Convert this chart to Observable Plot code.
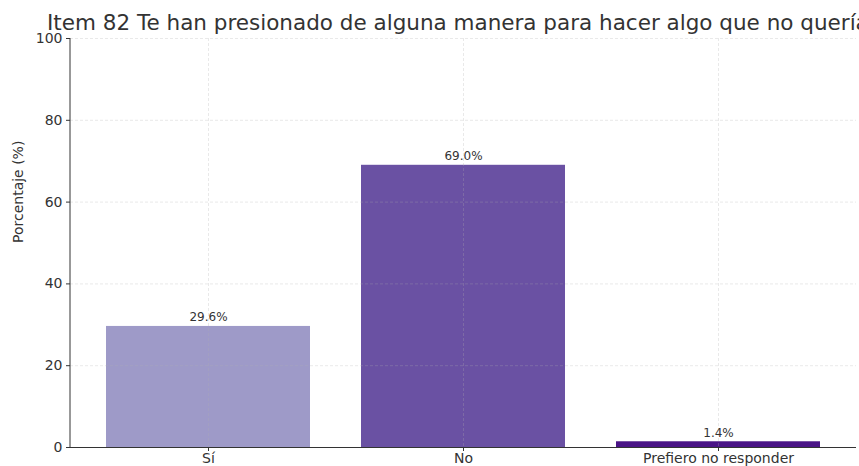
<!DOCTYPE html>
<html>
<head>
<meta charset="utf-8">
<script src="https://cdn.jsdelivr.net/npm/d3@7"></script>
<script src="https://cdn.jsdelivr.net/npm/@observablehq/plot@0.6"></script>
<style>
  html, body { margin: 0; padding: 0; background: #fff; }
  #wrap { position: relative; width: 859px; height: 466px; overflow: hidden; font-family: "DejaVu Sans", sans-serif; }
  #title { position: absolute; top: 12px; left: 47px; white-space: nowrap; font-size: 21.5px; line-height: 1; color: #333; }
  #chart { position: absolute; top: 0; left: 0; }
</style>
</head>
<body>
<div id="wrap">
  <div id="chart"></div>
  <div id="title">Item 82 Te han presionado de alguna manera para hacer algo que no quería</div>
</div>
<script>
const categories = ["Sí", "No", "Prefiero no responder"];
const values = [29.6, 69.0, 1.4];
const colors = ["#9e9ac8", "#6a51a3", "#4a1486"];
const yTicks = [0, 20, 40, 60, 80, 100];

const data = categories.map((c, i) => ({cat: c, val: values[i], label: values[i].toFixed(1) + "%"}));

const chart = Plot.plot({
  width: 859,
  height: 466,
  marginLeft: 70,
  marginRight: 3,
  marginTop: 38,
  marginBottom: 19,
  style: {fontFamily: "DejaVu Sans, sans-serif", fontSize: "14px", color: "#333", background: "#fff"},
  x: {domain: categories, paddingInner: 0.2, paddingOuter: 0.141, label: null, tickSize: 4},
  y: {domain: [0, 100], ticks: yTicks, label: null, tickSize: 4},
  color: {domain: categories, range: colors},
  marks: [
    Plot.barY(data, {x: "cat", y: "val", fill: "cat"}),
    Plot.gridY(yTicks, {stroke: "#b0b0b0", strokeOpacity: 0.35, strokeDasharray: "3,2", strokeWidth: 0.8}),
    Plot.gridX(categories, {x: d => d, stroke: "#b0b0b0", strokeOpacity: 0.35, strokeDasharray: "3,2", strokeWidth: 0.8}),
    Plot.axisY({ticks: yTicks, tickSize: 4, fontSize: 14, fill: "#333", tickPadding: 4}),
    Plot.axisX({tickSize: 4, fontSize: 14, fill: "#333", tickPadding: 2}),
    Plot.ruleY([0], {stroke: "#333", strokeWidth: 1}),
    Plot.text(data, {x: "cat", y: "val", text: "label", dy: -9, fontSize: 12, fill: "#333"}),
    Plot.text(["Porcentaje (%)"], {frameAnchor: "left", dx: -52, rotate: -90, fontSize: 14, fill: "#333"})
  ]
});
// left spine
const svg = d3.select(chart);
svg.append("line").attr("x1", 70).attr("x2", 70).attr("y1", 38).attr("y2", 447).attr("stroke", "#333").attr("stroke-width", 1);
document.getElementById("chart").appendChild(chart);
</script>
</body>
</html>
